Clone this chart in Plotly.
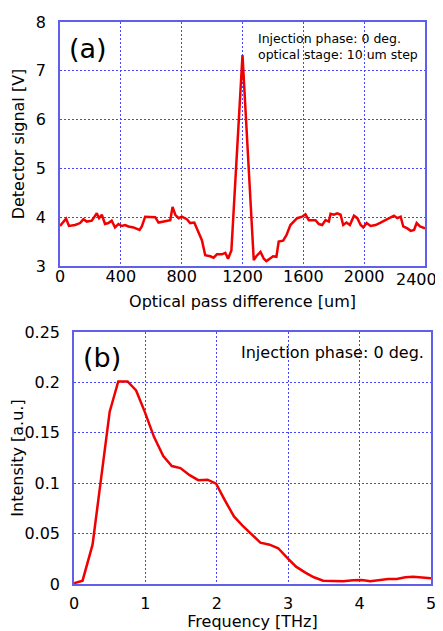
import plotly.graph_objects as go

# ---- data: panel (a) interferogram ----
opd_um = [0, 33, 40, 59, 99, 132, 154, 176, 209, 242, 257, 275, 296, 318, 340, 362, 384, 406,
          428, 450, 483, 523, 538, 560, 593, 626, 648, 681, 714, 725, 740, 758, 780, 801, 834,
          856, 883, 911, 933, 955, 988, 1010, 1032, 1065, 1087, 1105, 1127, 1200, 1274, 1291,
          1318, 1340, 1357, 1379, 1401, 1423, 1438, 1467, 1489, 1515, 1537, 1559, 1592, 1614,
          1636, 1680, 1702, 1724, 1746, 1768, 1779, 1801, 1823, 1845, 1862, 1884, 1906, 1933,
          1955, 1977, 1994, 2016, 2042, 2075, 2108, 2141, 2174, 2196, 2218, 2240, 2257, 2284,
          2306, 2328, 2345, 2367, 2400]
signal_v = [3.82, 3.95, 3.97, 3.82, 3.84, 3.88, 3.96, 3.91, 3.93, 4.08, 3.98, 4.05, 3.86, 3.88,
            3.93, 3.79, 3.86, 3.82, 3.84, 3.81, 3.79, 3.74, 3.81, 4.01, 4.01, 4.00, 3.89, 3.91,
            3.93, 3.94, 4.21, 4.05, 3.98, 4.01, 3.96, 3.88, 3.89, 3.70, 3.53, 3.22, 3.20, 3.17,
            3.24, 3.24, 3.27, 3.15, 3.32, 7.32, 3.12, 3.20, 3.29, 3.15, 3.10, 3.15, 3.20, 3.19,
            3.50, 3.52, 3.63, 3.84, 3.91, 3.98, 4.01, 4.06, 3.94, 3.94, 3.86, 3.84, 3.94, 3.91,
            4.07, 4.05, 4.08, 4.05, 3.84, 3.89, 3.84, 4.03, 3.98, 3.84, 3.79, 3.88, 3.82, 3.84,
            3.89, 3.94, 3.98, 4.03, 3.98, 4.01, 3.81, 3.77, 3.72, 3.74, 3.88, 3.81, 3.77]

# ---- data: panel (b) spectrum ----
freq_thz = [0.0, 0.12, 0.26, 0.37, 0.50, 0.62, 0.75, 0.87, 0.99, 1.12, 1.25, 1.37, 1.49, 1.62,
            1.74, 1.87, 1.99, 2.11, 2.24, 2.36, 2.49, 2.61, 2.74, 2.86, 2.99, 3.11, 3.24, 3.36,
            3.49, 3.63, 3.77, 3.91, 4.03, 4.15, 4.29, 4.40, 4.52, 4.64, 4.75, 4.87, 5.0]
intensity = [0.0007, 0.0033, 0.039, 0.100, 0.171, 0.201, 0.201, 0.192, 0.171, 0.146, 0.127,
             0.117, 0.115, 0.108, 0.103, 0.1035, 0.0995, 0.0835, 0.067, 0.058, 0.049, 0.041,
             0.039, 0.0355, 0.0256, 0.0172, 0.0113, 0.0067, 0.0033, 0.0027, 0.0027, 0.0037,
             0.004, 0.0027, 0.004, 0.005, 0.005, 0.0066, 0.0073, 0.0063, 0.0056]

xticks_a = [0, 400, 800, 1200, 1600, 2000, 2400]
xtick_text_a = ["0", "400", "800", "1200", "1600", "2000", "2400"]
yticks_a = [3, 4, 5, 6, 7, 8]
xticks_b = [0, 1, 2, 3, 4, 5]
yticks_b = [0, 0.05, 0.1, 0.15, 0.2, 0.25]
ytick_text_b = ["0", "0.05", "0.1", "0.15", "0.2", "0.25"]

# the page body has an 8px margin; figure is sized to fit the 443x631 window
OFF = 8
W, H = 443 - OFF, 631 - OFF


def dx(p):
    return (p - OFF) / W


def dy(p):
    return 1 - (p - OFF) / H


FONT = "DejaVu Sans"
FRAME = "rgb(95,95,235)"
GRID = "rgb(70,70,255)"
RED = "rgb(240,0,0)"
TICKFONT = dict(family=FONT, size=16, color="black")

fig = go.Figure()
fig.add_trace(go.Scatter(x=opd_um, y=signal_v, mode="lines", line=dict(color=RED, width=2.5),
                         xaxis="x", yaxis="y", showlegend=False))
fig.add_trace(go.Scatter(x=freq_thz, y=intensity, mode="lines", line=dict(color=RED, width=2.5),
                         xaxis="x2", yaxis="y2", showlegend=False))

axis_common = dict(showline=True, mirror=True, linecolor=FRAME, linewidth=1.5,
                   showgrid=True, gridcolor=GRID, griddash="2px,2px", gridwidth=1,
                   zeroline=False, ticks="", ticklen=0, automargin=False,
                   tickfont=TICKFONT)

fig.update_layout(
    width=W, height=H,
    margin=dict(l=0, r=0, t=0, b=0, autoexpand=False),
    paper_bgcolor="white", plot_bgcolor="white",
    font=dict(family=FONT, color="black"),
    xaxis=dict(domain=[dx(60), dx(425)], range=[0, 2400], tickvals=xticks_a,
               ticktext=xtick_text_a[:-1] + [""],
               anchor="y", ticklabelstandoff=-5,
               title=dict(text="Optical pass difference [um]", font=dict(size=16), standoff=11),
               **axis_common),
    yaxis=dict(domain=[dy(266), dy(22)], range=[3, 8], tickvals=yticks_a,
               anchor="x", ticklabelstandoff=9,
               title=dict(text="Detector signal [V]", font=dict(size=16), standoff=7),
               **axis_common),
    xaxis2=dict(domain=[dx(74), dx(431)], range=[0, 5], tickvals=xticks_b,
                anchor="y2", ticklabelstandoff=4,
                title=dict(text="Frequency [THz]", font=dict(size=16), standoff=7),
                **axis_common),
    yaxis2=dict(domain=[dy(584), dy(332)], range=[0, 0.25], tickvals=yticks_b,
                ticktext=ytick_text_b, anchor="x2", ticklabelstandoff=9,
                title=dict(text="Intensity [a.u.]", font=dict(size=16), standoff=1),
                **axis_common),
)

# last tick label of panel (a), nudged left so it stays inside the window
fig.add_annotation(x=xticks_a[-1], y=0, xref="x", yref="y domain", text=xtick_text_a[-1],
                   showarrow=False, xanchor="center", yanchor="top", xshift=-9, yshift=-2,
                   font=TICKFONT)

fig.add_annotation(x=0.02, y=0.89, xref="x domain", yref="y domain", text="(a)",
                   showarrow=False, xanchor="left", yanchor="middle",
                   font=dict(family=FONT, size=27, color="black"))
fig.add_annotation(x=0.985, y=0.97, xref="x domain", yref="y domain",
                   text="Injection phase: 0 deg.<br>optical stage: 10 um step",
                   showarrow=False, xanchor="right", yanchor="top", align="left",
                   font=dict(family=FONT, size=12.5, color="black"))
fig.add_annotation(x=0.02, y=0.9, xref="x2 domain", yref="y2 domain", text="(b)",
                   showarrow=False, xanchor="left", yanchor="middle",
                   font=dict(family=FONT, size=27, color="black"))
fig.add_annotation(x=0.985, y=0.92, xref="x2 domain", yref="y2 domain",
                   text="Injection phase: 0 deg.",
                   showarrow=False, xanchor="right", yanchor="middle",
                   font=dict(family=FONT, size=16, color="black"))

fig.write_html("out.html")
